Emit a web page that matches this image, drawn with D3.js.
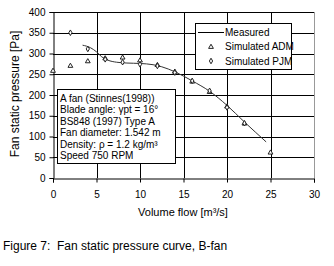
<!DOCTYPE html>
<html>
<head>
<meta charset="utf-8">
<script src="https://cdn.jsdelivr.net/npm/d3@7"></script>
<style>
body { margin: 0; background: #fff; }
text { font-family: Arial, "Liberation Sans", sans-serif; fill: #000; }
</style>
</head>
<body>
<svg id="chart" width="334" height="266"></svg>
<script>
// measured curve
const measuredFlow = [3.4, 4.3, 5, 5.6, 6.3, 7.3, 8.5, 10, 11.5, 12.5, 14, 16, 18, 20, 22, 24.5];
const measuredPressure = [320, 314, 304, 292, 284, 279, 277, 276, 273, 268, 256, 234, 209, 175, 135, 87];

// simulated points
const admFlow = [0, 2, 4, 6, 8, 10, 12, 14, 16, 18, 20, 22, 25];
const admPressure = [258, 270, 281, 288, 290, 283, 272, 256, 232, 207, 172, 131, 61];
const pjmFlow = [2, 4, 6, 8, 10, 12, 14, 16, 18, 20, 22];
const pjmPressure = [350, 311, 286, 279, 274, 270, 254, 234, 210, 170, 132];

const xTicks = [0, 5, 10, 15, 20, 25, 30];
const yTicks = [0, 50, 100, 150, 200, 250, 300, 350, 400];

const infoLines = [
	"A fan (Stinnes(1998))",
	"Blade angle: γpt = 16°",
	"BS848 (1997) Type A",
	"Fan diameter: 1.542 m",
	"Density: ρ = 1.2 kg/m³",
	"Speed 750 RPM"
];
const legendNames = ["Measured", "Simulated ADM", "Simulated PJM"];

const svg = d3.select("#chart");
const plotLeft = 53, plotRight = 314, plotTop = 12, plotBottom = 178;

const x = d3.scaleLinear().domain([0, 30]).range([plotLeft, plotRight]);
const y = d3.scaleLinear().domain([0, 400]).range([plotBottom, plotTop]);

// grid
const grid = svg.append("g").attr("class", "grid");
grid.selectAll(".hgrid")
	.data(yTicks.filter(d => d > 0))
	.enter()
	.append("line")
	.attr("x1", plotLeft).attr("x2", plotRight)
	.attr("y1", d => Math.round(y(d)) + 0.5).attr("y2", d => Math.round(y(d)) + 0.5)
	.attr("stroke", "#000").attr("stroke-width", 1);
grid.selectAll(".vgrid")
	.data(xTicks.filter(d => d > 0 && d < 30))
	.enter()
	.append("line")
	.attr("x1", d => Math.round(x(d)) + 0.5).attr("x2", d => Math.round(x(d)) + 0.5)
	.attr("y1", plotTop).attr("y2", plotBottom)
	.attr("stroke", "#000").attr("stroke-width", 1);
grid.append("line")
	.attr("x1", plotRight + 0.5).attr("x2", plotRight + 0.5)
	.attr("y1", plotTop).attr("y2", plotBottom)
	.attr("stroke", "#999");

// axes
const xAxis = svg.append("g")
	.attr("transform", `translate(0, ${plotBottom + 0.5})`)
	.call(d3.axisBottom(x).tickValues(xTicks).tickSize(4).tickPadding(8));
const yAxis = svg.append("g")
	.attr("transform", `translate(${plotLeft + 0.5}, 0)`)
	.call(d3.axisLeft(y).tickValues(yTicks).tickSize(4).tickPadding(4));
[xAxis, yAxis].forEach(a => {
	a.select(".domain").attr("stroke", "#000");
	a.selectAll(".tick line").attr("stroke", "#000");
	a.selectAll(".tick text").style("font-size", "10px").style("font-family", "Arial, 'Liberation Sans', sans-serif");
});

// measured line
const line = d3.line()
	.x((d, i) => x(measuredFlow[i]))
	.y(d => y(d))
	.curve(d3.curveMonotoneX);
svg.append("path")
	.attr("d", line(measuredPressure))
	.attr("fill", "none")
	.attr("stroke", "#333")
	.attr("stroke-width", 1);

// markers
const tri = d3.symbol().type(d3.symbolTriangle).size(10);
const dia = d3.symbol().type(d3.symbolDiamond).size(9);

svg.append("g").selectAll("path")
	.data(admPressure)
	.enter()
	.append("path")
	.attr("d", tri)
	.attr("transform", (d, i) => `translate(${x(admFlow[i])}, ${y(d)})`)
	.attr("fill", "#fff")
	.attr("stroke", "#222")
	.attr("stroke-width", 1);

svg.append("g").selectAll("path")
	.data(pjmPressure)
	.enter()
	.append("path")
	.attr("d", dia)
	.attr("transform", (d, i) => `translate(${x(pjmFlow[i])}, ${y(d)})`)
	.attr("fill", "#fff")
	.attr("stroke", "#222")
	.attr("stroke-width", 1);

// info box
const info = svg.append("g");
info.append("rect")
	.attr("x", 57.5).attr("y", 89.5)
	.attr("width", 118).attr("height", 74)
	.attr("fill", "#fff").attr("stroke", "#000");
info.selectAll("text")
	.data(infoLines)
	.enter()
	.append("text")
	.attr("x", 60)
	.attr("y", (_, i) => 101.5 + i * 11.5)
	.style("font-size", "10px")
	.text(d => d);

// legend
const legend = svg.append("g");
legend.append("rect")
	.attr("x", 195.5).attr("y", 23.5)
	.attr("width", 96).attr("height", 46)
	.attr("fill", "#fff").attr("stroke", "#000");
legend.append("line")
	.attr("x1", 198).attr("x2", 224)
	.attr("y1", 32.5).attr("y2", 32.5)
	.attr("stroke", "#000");
legend.append("path")
	.attr("d", tri)
	.attr("transform", "translate(211, 47)")
	.attr("fill", "#fff").attr("stroke", "#222");
legend.append("path")
	.attr("d", dia)
	.attr("transform", "translate(211, 61)")
	.attr("fill", "#fff").attr("stroke", "#222");
legend.selectAll(".lt")
	.data(legendNames)
	.enter()
	.append("text")
	.attr("x", 225)
	.attr("y", (_, i) => 36 + i * 14.3)
	.style("font-size", "10px")
	.text(d => d);

// titles
svg.append("text")
	.attr("transform", "translate(19, 94) rotate(-90)")
	.attr("text-anchor", "middle")
	.style("font-size", "12px")
	.text("Fan static pressure [Pa]");
svg.append("text")
	.attr("x", 183).attr("y", 216)
	.attr("text-anchor", "middle")
	.style("font-size", "11px")
	.text("Volume flow [m³/s]");
svg.append("text")
	.attr("x", 3).attr("y", 250)
	.style("font-size", "12px")
	.style("white-space", "pre")
	.text("Figure 7:  Fan static pressure curve, B-fan");
</script>
</body>
</html>
